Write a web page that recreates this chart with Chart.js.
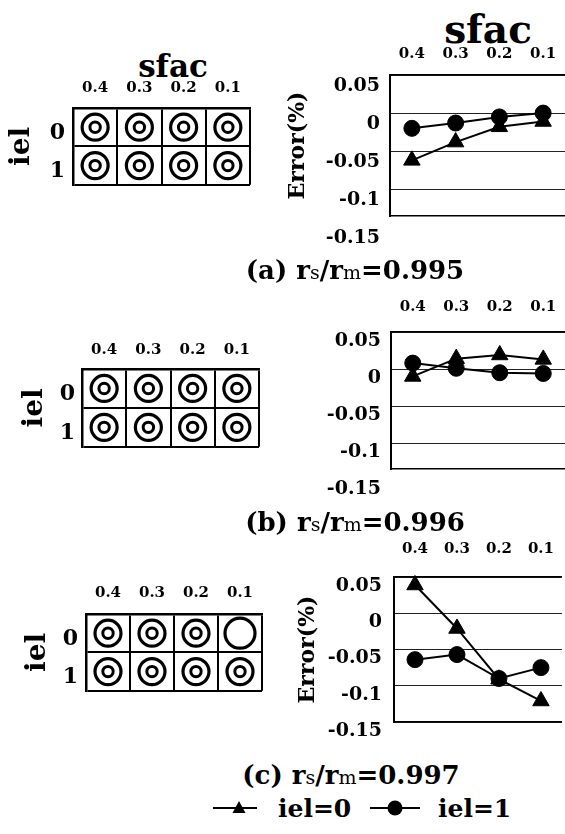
<!DOCTYPE html>
<html lang="en">
<head>
<meta charset="UTF-8">
<title>sfac / iel error</title>
<script src="https://cdn.jsdelivr.net/npm/chart.js"></script>
<style>
    body {
        margin: 0;
        width: 565px;
        height: 834px;
        overflow: hidden;
        position: relative;
        background: #fff;
    }
    canvas {
        position: absolute;
    }
    .t {
        position: absolute;
        white-space: nowrap;
        line-height: 1;
        font-family: "DejaVu Serif", serif;
        font-weight: bold;
        color: #000;
    }
    .c { transform: translate(-50%, -50%); }
    .l { transform: translateY(-50%); }
    .sub { font-size: 19px; font-weight: normal; }
    svg { position: absolute; }
</style>
</head>
<body>
    <div class="t c" style="left:173px; top:66px; font-size:31px;">sfac</div>
    <div class="t c" style="left:488px; top:29px; font-size:39px;">sfac</div>

    <canvas id="gridA" width="256" height="146" style="left:0; top:60px;"></canvas>
    <canvas id="errA" width="285" height="220" style="left:280px; top:40px;"></canvas>
    <div class="t c" style="left:355px; top:270px; font-size:26px;">(a) r<span class="sub">s</span>/r<span class="sub">m</span>=0.995</div>

    <canvas id="gridB" width="265" height="147" style="left:0; top:320px;"></canvas>
    <canvas id="errB" width="285" height="215" style="left:280px; top:295px;"></canvas>
    <div class="t c" style="left:355px; top:522px; font-size:26px;">(b) r<span class="sub">s</span>/r<span class="sub">m</span>=0.996</div>

    <canvas id="gridC" width="268" height="147" style="left:0; top:565px;"></canvas>
    <canvas id="errC" width="285" height="220" style="left:280px; top:540px;"></canvas>
    <div class="t c" style="left:351px; top:775px; font-size:26px;">(c) r<span class="sub">s</span>/r<span class="sub">m</span>=0.997</div>

    <!-- legend -->
    <svg width="46" height="16" style="left:213px; top:801px;">
        <line x1="0" y1="7" x2="44" y2="7" stroke="#000" stroke-width="2"/>
        <polygon points="26,0 32.5,12 19.5,12" fill="#000"/>
    </svg>
    <div class="t l" style="left:278px; top:808px; font-size:25px;">iel=0</div>
    <svg width="50" height="16" style="left:370px; top:800px;">
        <line x1="0" y1="8" x2="50" y2="8" stroke="#000" stroke-width="2"/>
        <circle cx="25" cy="8" r="7.5" fill="#000"/>
    </svg>
    <div class="t l" style="left:438px; top:808px; font-size:25px;">iel=1</div>

<script>
    // categories
    const sfacLabels = ['0.4', '0.3', '0.2', '0.1'];
    const ielLabels = ['0', '1'];
    const errorTicks = [0.05, 0, -0.05, -0.1, -0.15];

    // Error(%)
    const errA_iel0 = [-0.062, -0.038, -0.018, -0.011];
    const errA_iel1 = [-0.020, -0.013, -0.005, 0.000];
    const errB_iel0 = [-0.010, 0.014, 0.019, 0.013];
    const errB_iel1 = [0.008, 0.001, -0.005, -0.006];
    const errC_iel0 = [0.039, -0.021, -0.091, -0.121];
    const errC_iel1 = [-0.064, -0.057, -0.090, -0.075];

    // symbol in each cell (row = iel, col = sfac): 2 = double circle, 1 = single circle
    const markA = [[2, 2, 2, 2], [2, 2, 2, 2]];
    const markB = [[2, 2, 2, 2], [2, 2, 2, 2]];
    const markC = [[2, 2, 2, 1], [2, 2, 2, 2]];

    Chart.defaults.font.family = '"DejaVu Serif", serif';
    Chart.defaults.font.weight = 'bold';
    Chart.defaults.color = '#000';
    Chart.defaults.animation = false;
    Chart.defaults.events = [];
    Chart.defaults.plugins.legend.display = false;
    Chart.defaults.plugins.tooltip.enabled = false;

    // left side: table of circle symbols
    function makeGrid(id, marks, L) {
        const ring = [], dot = [], single = [];
        marks.forEach((row, r) => row.forEach((m, c) => {
            const p = { x: sfacLabels[c], y: ielLabels[r] };
            if (m === 2) { ring.push(p); dot.push(p); }
            else if (m === 1) single.push(p);
        }));
        const pts = (data, radius, bw) => ({
            data: data,
            showLine: false,
            pointStyle: 'circle',
            pointRadius: radius,
            pointBorderWidth: bw,
            pointBorderColor: '#000',
            pointBackgroundColor: 'rgba(0,0,0,0)',
            clip: false
        });
        new Chart(document.getElementById(id), {
            type: 'line',
            data: { datasets: [pts(ring, 13, 3.2), pts(dot, 5.2, 3), pts(single, 15, 3.2)] },
            options: {
                responsive: false,
                layout: { autoPadding: false, padding: { left: L.padL, top: 0, right: 6, bottom: 5 } },
                scales: {
                    x: {
                        type: 'category', labels: sfacLabels, position: 'top', offset: true,
                        grid: { offset: true, color: '#000', lineWidth: 2, drawTicks: false },
                        border: { color: '#000', width: 2.5 },
                        ticks: { font: { size: 15 }, padding: L.xPad, maxRotation: 0, autoSkip: false },
                        afterFit: s => { s.height = L.xH; }
                    },
                    y: {
                        type: 'category', labels: ielLabels, offset: true,
                        grid: { offset: true, color: '#000', lineWidth: 2, drawTicks: false },
                        border: { color: '#000', width: 2.5 },
                        ticks: { font: { size: 22 }, padding: L.yPad, labelOffset: 6 },
                        title: { display: true, text: 'iel', font: { size: 28 }, padding: 0 },
                        afterFit: s => { s.width = L.yW; }
                    }
                }
            }
        });
    }

    // right side: Error(%) line plots
    function makeErr(id, iel0, iel1, R) {
        const yMin = R.yMin;
        new Chart(document.getElementById(id), {
            type: 'line',
            data: {
                labels: sfacLabels,
                datasets: [{
                    label: 'iel=0',
                    data: iel0,
                    borderColor: '#000',
                    borderWidth: 2,
                    tension: 0,
                    pointStyle: 'triangle',
                    pointRadius: 9.5,
                    pointBackgroundColor: '#000',
                    pointBorderColor: '#000',
                    pointBorderWidth: 1,
                    clip: false
                }, {
                    label: 'iel=1',
                    data: iel1,
                    borderColor: '#000',
                    borderWidth: 2,
                    tension: 0,
                    pointStyle: 'circle',
                    pointRadius: 8,
                    pointBackgroundColor: '#000',
                    pointBorderColor: '#000',
                    pointBorderWidth: 1,
                    clip: false
                }]
            },
            options: {
                responsive: false,
                layout: { autoPadding: false, padding: { left: R.padL, top: 0, right: 0, bottom: R.padB } },
                scales: {
                    x: {
                        type: 'category', position: 'top', offset: true,
                        grid: { display: false },
                        border: { color: '#000', width: 1.5 },
                        ticks: { font: { size: 15 }, padding: R.xPad, maxRotation: 0, autoSkip: false },
                        afterFit: s => { s.height = R.xH; }
                    },
                    xb: {
                        type: 'category', position: 'bottom',
                        grid: { display: false, drawTicks: false },
                        ticks: { display: false },
                        border: { color: '#000', width: 1.5 },
                        afterFit: s => { s.height = 0; }
                    },
                    y: {
                        min: yMin, max: 0.05,
                        afterBuildTicks: s => { s.ticks = errorTicks.map(v => ({ value: v })); },
                        grid: {
                            color: c => (c.tick && c.tick.value < yMin - 1e-9) ? 'rgba(0,0,0,0)' : '#222',
                            lineWidth: 1,
                            drawTicks: false
                        },
                        border: { color: '#000', width: 2 },
                        ticks: {
                            font: { size: 19 }, padding: R.yPad, labelOffset: R.labOff,
                            callback: v => String(+(+v).toFixed(3))
                        },
                        title: { display: R.title, text: 'Error(%)', font: { size: 22 }, padding: 0 },
                        afterFit: s => { s.width = R.yW; }
                    }
                }
            }
        });
    }

    makeGrid('gridA', markA, { padL: 5, yW: 68, xH: 48, xPad: 11, yPad: 8 });
    makeGrid('gridB', markB, { padL: 18, yW: 64, xH: 49, xPad: 10, yPad: 7 });
    makeGrid('gridC', markC, { padL: 21, yW: 65, xH: 49, xPad: 12, yPad: 8 });

    makeErr('errA', errA_iel0, errA_iel1, { padL: 5, yW: 105, xH: 35, padB: 44, xPad: 4, yPad: 10, labOff: 11, yMin: -0.135, title: true });
    makeErr('errB', errB_iel0, errB_iel1, { padL: 5, yW: 106, xH: 37, padB: 41, xPad: 8, yPad: 10, labOff: 9, yMin: -0.135, title: false });
    makeErr('errC', errC_iel0, errC_iel1, { padL: 15, yW: 99, xH: 37, padB: 38, xPad: 11, yPad: 12, labOff: 9, yMin: -0.15, title: true });
</script>
</body>
</html>
